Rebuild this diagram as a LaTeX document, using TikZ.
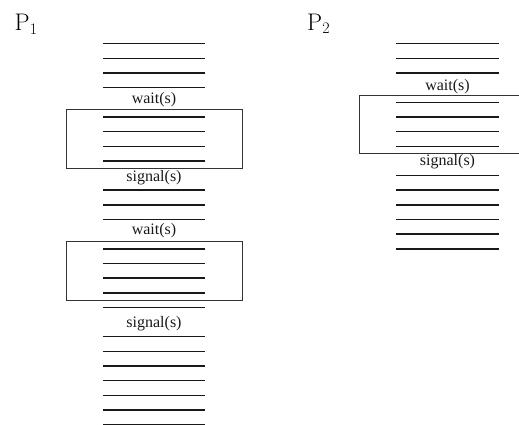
\documentclass[tikz,border=0pt]{standalone}
\usepackage{fontspec}
\newfontfamily\codefont{Liberation Serif}
\begin{document}
\begin{tikzpicture}[x=1pt,y=-1pt,
  stmt/.style={line width=1.5pt, black!90, line cap=butt},
  region/.style={draw=black!80, line width=0.9pt},
  call/.style={font=\codefont\fontsize{16}{16}\selectfont, anchor=base, inner sep=0pt, black!90},
  proc/.style={anchor=base west, inner sep=0pt}]
\useasboundingbox (0,0) rectangle (519,425);
% statement rows sit on a regular grid
\def\dy{14.65}
\def\yo{43.7}
% process P1: statements
\foreach \k in {0,1,2,3,5,6,7,8,10,11,12,14,15,16,17,18,20,21,22,23,24,25,26}
  \draw[stmt] (103,{\yo+\k*\dy}) -- (205,{\yo+\k*\dy});
% process P1: critical sections
\draw[region] (66,{\yo+4.5*\dy}) rectangle (242,{\yo+8.5*\dy});
\draw[region] (66,{\yo+13.5*\dy}) rectangle (242,{\yo+17.5*\dy});
\node[call] (w1) at (154,104) {wait(s)};
\node[call] (s1) at (154,181.5) {signal(s)};
\node[call] (w2) at (154,234.5) {wait(s)};
\node[call] (s2) at (154,327) {signal(s)};
% process P2: statements
\foreach \k in {0,1,2,4,5,6,7,9,10,11,12,13,14}
  \draw[stmt] (396,{\yo+\k*\dy}) -- (499,{\yo+\k*\dy});
% process P2: critical section
\draw[region] (359.3,{\yo+3.5*\dy}) rectangle (523,{\yo+7.5*\dy});
\node[call] (w3) at (447.5,91) {wait(s)};
\node[call] (s3) at (447.5,165.5) {signal(s)};
% process names
\node[proc] (p1) at (14.5,31) {\fontsize{24}{24}\selectfont P\raisebox{-3.5pt}{\fontsize{16}{16}\selectfont 1}};
\node[proc] (p2) at (307,30.5) {\fontsize{24}{24}\selectfont P\raisebox{-3.5pt}{\fontsize{16}{16}\selectfont 2}};
\end{tikzpicture}
\end{document}
